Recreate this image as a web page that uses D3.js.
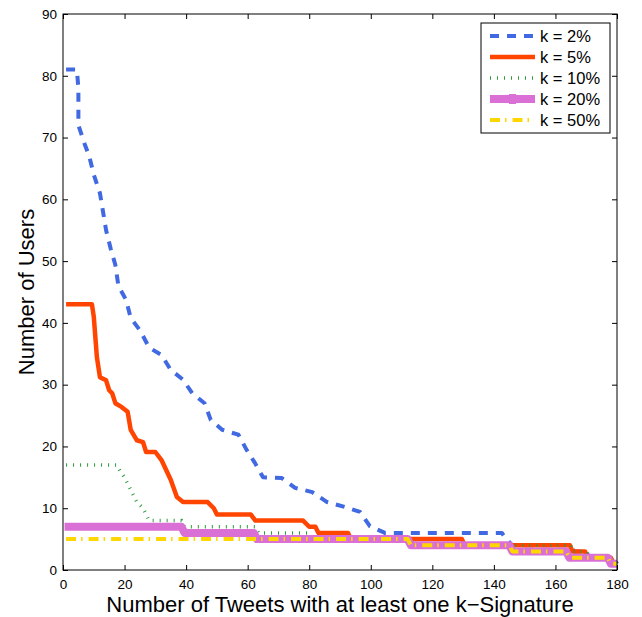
<!DOCTYPE html>
<html lang="en">
<head>
<meta charset="UTF-8">
<script src="https://d3js.org/d3.v7.min.js"></script>
<style>
  body { margin: 0; background: #fff; }
  svg { font-family: "Liberation Sans", Arial, sans-serif; }
  .tick text { font-size: 13.5px; fill: #000; }
  .tick line { stroke: #000; }
</style>
</head>
<body>
<svg id="chart"></svg>
<script>
// tick values
const xTicks = [0, 20, 40, 60, 80, 100, 120, 140, 160, 180];
const yTicks = [0, 10, 20, 30, 40, 50, 60, 70, 80, 90];

// series names
const seriesNames = ["k = 2%", "k = 5%", "k = 10%", "k = 20%", "k = 50%"];

// values: [tweets, users]
const k2 = [[1,81],[4.5,81],[5,78],[5,75],[5,72],[7,69],[8.5,67],[10,64],[12,61],[13,58],[14,55],
  [15.5,52],[17,49.4],[18,46],[20.5,43.7],[22,40.8],[25,38.8],[28,36],[32,34.8],[35,32.4],
  [39,30.8],[42,28.6],[46,27],[48,24.3],[51.7,22.7],[57,21.9],[59.7,19.4],[62.4,17.3],[65,15],
  [71,14.9],[75.4,13.3],[81,12.6],[85.8,11],[91.6,10.2],[96.5,9.4],[99.7,7.1],[104.6,6],
  [142.6,6],[144,5],[146,4],[165,4],[166,3],[170,3],[171,2],[179,2],[180,1]];
const k5 = [[1,43],[9.4,43],[10,41],[11,34.5],[12,31.2],[14,30.7],[15,29.1],[16,28.6],[17,27],
  [19,26.4],[21,25.6],[22,22.7],[24,21],[26,20.7],[27,19.1],[30,19.1],[32,17.8],[35,14.6],
  [37,11.8],[39,11],[47,11],[49,10],[50,9],[61,9],[62.5,8],[78,8],[80,7],[82,7],[83,6],
  [92.6,6],[93.5,5],[129.6,5],[130.5,4],[164.7,4],[165.5,3],[169.6,3],[170.5,2],[178,2],[179,1],[180,1]];
const k10 = [[1,17],[17.5,17],[18.5,16],[20,15],[21,14],[22,13],[23,12],[24,11],[26,10],[27,9],
  [28,8],[38.5,8],[39.5,7],[62.5,7],[63.5,6],[80,6],[81,5],[113,5],[114,4],[165,4],[165.5,3],
  [170,3],[171,2],[178,2],[179,1],[180,1]];
const k20 = [[0.5,7],[38.5,7],[39.5,6],[62,6],[63,5],[112,5],[113,4],[145,4],[146,3],[163.5,3],
  [164.5,2],[177,2],[178,1],[180,1]];
const k50 = [[1,5],[112,5],[113,4],[145,4],[146,3],[163.5,3],[164.5,2],[177,2],[178,1],[180,1]];

const W = 642, H = 617;
const m = { left: 63, right: 25, top: 14, bottom: 47 };

const svg = d3.select('#chart').attr('width', W).attr('height', H);

const x = d3.scaleLinear().domain([0, 180]).range([m.left, W - m.right]);
const y = d3.scaleLinear().domain([0, 90]).range([H - m.bottom, m.top]);

// axes, ticks pointing inward like matlab
svg.append('g')
  .attr('transform', 'translate(0,' + (H - m.bottom) + ')')
  .call(d3.axisBottom(x).tickValues(xTicks).tickSizeInner(-5).tickSizeOuter(0).tickPadding(9))
  .call(g => g.select('.domain').remove());
svg.append('g')
  .attr('transform', 'translate(0,' + m.top + ')')
  .call(d3.axisTop(x).tickValues(xTicks).tickSizeInner(-5).tickSizeOuter(0).tickFormat(''))
  .call(g => g.select('.domain').remove());
svg.append('g')
  .attr('transform', 'translate(' + m.left + ',0)')
  .call(d3.axisLeft(y).tickValues(yTicks).tickSizeInner(-5).tickSizeOuter(0).tickPadding(6))
  .call(g => g.select('.domain').remove());
svg.append('g')
  .attr('transform', 'translate(' + (W - m.right) + ',0)')
  .call(d3.axisRight(y).tickValues(yTicks).tickSizeInner(-5).tickSizeOuter(0).tickFormat(''))
  .call(g => g.select('.domain').remove());

const series = [
  { name: seriesNames[0], data: k2,  color: '#4169E1', width: 4,   dash: '9,8' },
  { name: seriesNames[1], data: k5,  color: '#FF4500', width: 4.5, dash: null },
  { name: seriesNames[2], data: k10, color: '#2E9B3A', width: 3.5, dash: '1,6' },
  { name: seriesNames[3], data: k20, color: '#DA70D6', width: 8,   dash: null },
  { name: seriesNames[4], data: k50, color: '#FFD700', width: 4,   dash: '10,5,1.5,6' }
];

const line = d3.line().x(d => x(d[0])).y(d => y(d[1]));

// draw in matlab order (later on top)
series.forEach(s => {
  svg.append('path')
    .datum(s.data)
    .attr('d', line)
    .attr('fill', 'none')
    .attr('stroke', s.color)
    .attr('stroke-width', s.width)
    .attr('stroke-dasharray', s.dash)
    .attr('stroke-linejoin', 'round');
});

// frame
svg.append('rect')
  .attr('x', m.left).attr('y', m.top)
  .attr('width', W - m.left - m.right).attr('height', H - m.top - m.bottom)
  .attr('fill', 'none').attr('stroke', '#000').attr('stroke-width', 1);

// legend
const lg = svg.append('g').attr('transform', 'translate(481,23)');
lg.append('rect').attr('width', 129).attr('height', 110)
  .attr('fill', '#fff').attr('stroke', '#000').attr('stroke-width', 1);
series.forEach((s, i) => {
  const ly = 13 + i * 21;
  lg.append('line')
    .attr('x1', 9).attr('x2', 54).attr('y1', ly).attr('y2', ly)
    .attr('stroke', s.color).attr('stroke-width', s.width)
    .attr('stroke-dasharray', s.dash);
  if (i === 3) {
    lg.append('rect').attr('x', 28).attr('y', ly - 5).attr('width', 7).attr('height', 10)
      .attr('fill', s.color);
  }
  lg.append('text')
    .attr('x', 59).attr('y', ly + 5.5)
    .style('font-size', '16.5px')
    .text(s.name);
});

// axis titles
svg.append('text')
  .attr('x', (m.left + W - m.right) / 2).attr('y', 612)
  .attr('text-anchor', 'middle')
  .style('font-size', '22px')
  .text('Number of Tweets with at least one k\u2212Signature');
svg.append('text')
  .attr('transform', 'translate(34,' + ((m.top + H - m.bottom) / 2) + ') rotate(-90)')
  .attr('text-anchor', 'middle')
  .style('font-size', '22px')
  .text('Number of Users');
</script>
</body>
</html>
